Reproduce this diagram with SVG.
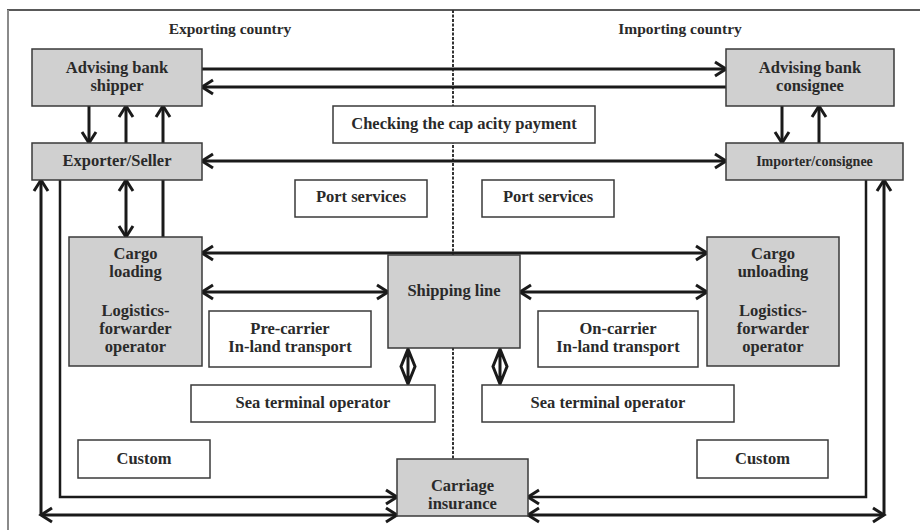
<svg xmlns="http://www.w3.org/2000/svg" width="920" height="530" viewBox="0 0 920 530">
<defs>
<marker id="ah" markerUnits="userSpaceOnUse" markerWidth="16" markerHeight="18" viewBox="-13 -9 16 18" refX="0" refY="0" orient="auto-start-reverse" overflow="visible">
<path d="M-11,-7 L0,0 L-11,7" fill="none" stroke="#1a1a1a" stroke-width="3"/>
</marker>
<style>
text{font-family:"Liberation Serif","Times New Roman",serif;font-weight:bold;fill:#2a2a2a;text-anchor:middle;font-size:16.5px}
.g rect{fill:#d0d0d0;stroke:#3a3a3a;stroke-width:1.5}
.w rect{fill:#ffffff;stroke:#3a3a3a;stroke-width:1.5}
.c path{fill:none;stroke:#1a1a1a;stroke-width:3}
.c .t{stroke-width:2.5}
.hd{font-size:15.5px}
.sm{font-size:14px}
</style>
</defs>
<rect width="920" height="530" fill="#ffffff"/>
<g id="frame">
<line x1="7" y1="10" x2="920" y2="10" stroke="#222" stroke-width="1.5"/>
<line x1="8" y1="10" x2="8" y2="530" stroke="#8a8a8a" stroke-width="2"/>
<line x1="453" y1="10" x2="453" y2="459" stroke="#333" stroke-width="2" stroke-dasharray="3 1.5"/>
<text class="hd" x="230" y="34">Exporting country</text>
<text class="hd" x="680" y="34">Importing country</text>
</g>
<g id="connectors" class="c">
<path d="M202,69 H726" marker-end="url(#ah)"/>
<path d="M726,87 H202" marker-end="url(#ah)"/>
<path d="M202,161 H726" marker-start="url(#ah)" marker-end="url(#ah)"/>
<path d="M89,106 V143" marker-end="url(#ah)"/>
<path d="M126,143 V106" marker-end="url(#ah)"/>
<path d="M163,237 V180"/>
<path d="M163,143 V106" marker-end="url(#ah)"/>
<path d="M126,180 V237" marker-start="url(#ah)" marker-end="url(#ah)"/>
<path d="M782,106 V143" marker-end="url(#ah)"/>
<path d="M819,143 V106" marker-end="url(#ah)"/>
<path d="M202,253 H707" marker-start="url(#ah)" marker-end="url(#ah)"/>
<path d="M202,292 H388" marker-start="url(#ah)" marker-end="url(#ah)"/>
<path d="M520,292 H707" marker-start="url(#ah)" marker-end="url(#ah)"/>
<path d="M408,349 V384 M408,349 L401,366.5 L408,384 L415,366.5 Z"/>
<path d="M500,349 V384 M500,349 L493,366.5 L500,384 L507,366.5 Z"/>
<path class="t" d="M60,180 V497 H397" marker-end="url(#ah)"/>
<path d="M41,515 V180" marker-end="url(#ah)"/>
<path d="M41,515 H397" marker-start="url(#ah)" marker-end="url(#ah)"/>
<path class="t" d="M866,180 V497 H528" marker-end="url(#ah)"/>
<path d="M884,515 V180" marker-end="url(#ah)"/>
<path d="M528,515 H884" marker-start="url(#ah)" marker-end="url(#ah)"/>
</g>
<g id="advising-bank-shipper" class="g"><rect x="32" y="49" width="170" height="57"/><text x="117" y="73">Advising bank</text><text x="117" y="91">shipper</text></g>
<g id="exporter-seller" class="g"><rect x="32" y="143" width="170" height="37"/><text x="117" y="166">Exporter/Seller</text></g>
<g id="cargo-loading" class="g"><rect x="69" y="237" width="133" height="129"/><text x="135.5" y="259">Cargo</text><text x="135.5" y="277">loading</text><text x="135.5" y="316">Logistics-</text><text x="135.5" y="334">forwarder</text><text x="135.5" y="352">operator</text></g>
<g id="checking" class="w"><rect x="333" y="106" width="262" height="37"/><text x="464" y="129">Checking the cap acity payment</text></g>
<g id="port-services-left" class="w"><rect x="295" y="180" width="132" height="37"/><text x="361" y="202">Port services</text></g>
<g id="port-services-right" class="w"><rect x="482" y="180" width="132" height="37"/><text x="548" y="202">Port services</text></g>
<g id="advising-bank-consignee" class="g"><rect x="726" y="49" width="168" height="57"/><text x="810" y="73">Advising bank</text><text x="810" y="91">consignee</text></g>
<g id="importer-consignee" class="g"><rect x="726" y="143" width="177" height="37"/><text class="sm" x="814.5" y="166">Importer/consignee</text></g>
<g id="cargo-unloading" class="g"><rect x="707" y="237" width="132" height="129"/><text x="773" y="259">Cargo</text><text x="773" y="277">unloading</text><text x="773" y="316">Logistics-</text><text x="773" y="334">forwarder</text><text x="773" y="352">operator</text></g>
<g id="shipping-line" class="g"><rect x="388" y="255" width="132" height="93"/><text x="454" y="296">Shipping line</text></g>
<g id="pre-carrier" class="w"><rect x="209" y="311" width="162" height="56"/><text x="290" y="334">Pre-carrier</text><text x="290" y="352">In-land transport</text></g>
<g id="on-carrier" class="w"><rect x="538" y="311" width="160" height="56"/><text x="618" y="334">On-carrier</text><text x="618" y="352">In-land transport</text></g>
<g id="sea-terminal-left" class="w"><rect x="191" y="385" width="244" height="37"/><text x="313" y="408">Sea terminal operator</text></g>
<g id="sea-terminal-right" class="w"><rect x="482" y="385" width="252" height="37"/><text x="608" y="408">Sea terminal operator</text></g>
<g id="custom-left" class="w"><rect x="78" y="440" width="132" height="38"/><text x="144" y="464">Custom</text></g>
<g id="custom-right" class="w"><rect x="697" y="440" width="131" height="38"/><text x="762.5" y="464">Custom</text></g>
<g id="carriage-insurance" class="g"><rect x="397" y="459" width="131" height="57"/><text x="462.5" y="491">Carriage</text><text x="462.5" y="509">insurance</text></g>
</svg>
